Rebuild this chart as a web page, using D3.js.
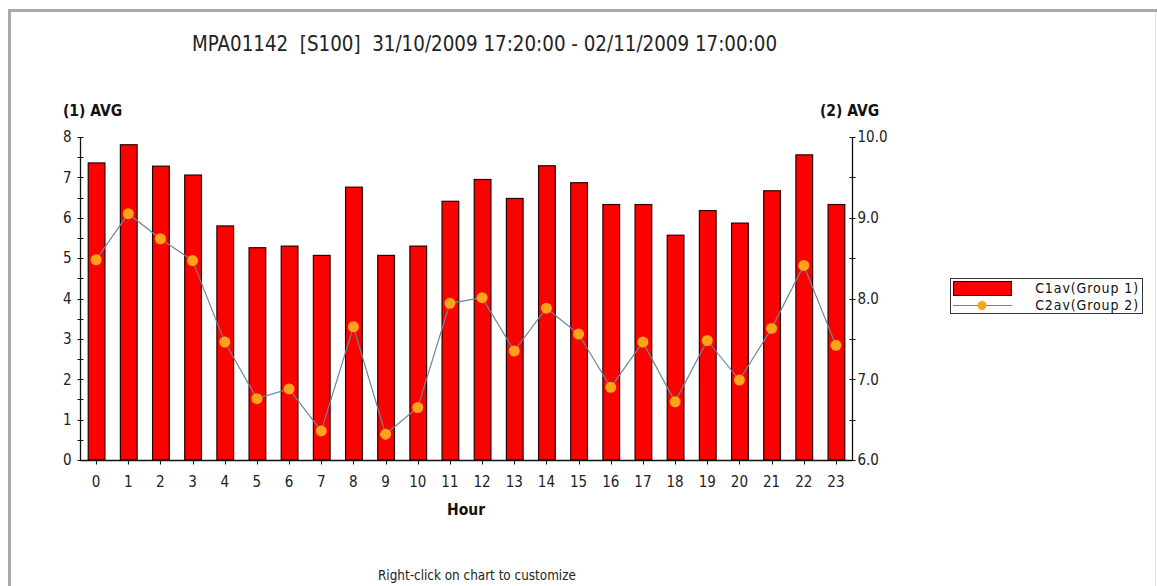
<!DOCTYPE html>
<html>
<head>
<meta charset="utf-8">
<script src="https://cdn.jsdelivr.net/npm/d3@7"></script>
<style>
  html, body { margin: 0; padding: 0; background: #fff; }
  svg { display: block; font-family: Tahoma, "DejaVu Sans Condensed", "DejaVu Sans", sans-serif; }
  .tick-label { font-size: 15px; fill: #222; }
  .axis-title { font-size: 15.5px; font-weight: bold; fill: #111; }
</style>
</head>
<body>
<div id="chart"></div>
<script>
  // hours and the two averaged series
  const hours = d3.range(0, 24);
  const c1av = [7.37, 7.82, 7.29, 7.07, 5.81, 5.27, 5.31, 5.08, 6.77, 5.08, 5.31, 6.42,
                6.96, 6.49, 7.30, 6.88, 6.34, 6.34, 5.58, 6.19, 5.88, 6.68, 7.57, 6.34];
  const c2av = [8.48, 9.05, 8.74, 8.47, 7.46, 6.76, 6.88, 6.36, 7.65, 6.32, 6.65, 7.94,
                8.01, 7.35, 7.88, 7.56, 6.90, 7.46, 6.72, 7.48, 6.99, 7.63, 8.41, 7.42];
  const leftTicks = [0, 1, 2, 3, 4, 5, 6, 7, 8];
  const rightTicks = [6, 7, 8, 9, 10];
  const seriesNames = ["C1av(Group 1)", "C2av(Group 2)"];

  const W = 1157, H = 586;
  const margin = { top: 137, right: 305, bottom: 126, left: 80 };
  const innerW = W - margin.left - margin.right;
  const innerH = H - margin.top - margin.bottom;

  // scale a text's font so that it spans the width seen in the reference
  const fitWidth = (sel, target) => {
    const base = parseFloat(sel.style("font-size"));
    const w = sel.node().getComputedTextLength();
    if (w > 0) sel.style("font-size", `${(base * target / w).toFixed(2)}px`);
  };

  const svg = d3.select("#chart").append("svg")
    .attr("width", W).attr("height", H);

  // frame of the host control
  svg.append("rect").attr("x", 9).attr("y", 9).attr("width", W - 9).attr("height", 3).attr("fill", "#a9a9a9");
  svg.append("rect").attr("x", 8).attr("y", 9).attr("width", 3).attr("height", H - 9).attr("fill", "#a9a9a9");
  svg.append("line").attr("x1", W - 1.5).attr("x2", W - 1.5).attr("y1", 12).attr("y2", H)
    .attr("stroke", "#e4e4e4");

  const title = svg.append("text")
    .attr("x", 192).attr("y", 51)
    .attr("xml:space", "preserve")
    .style("font-size", "16px").style("fill", "#222").style("white-space", "pre")
    .text("MPA01142  [S100]  31/10/2009 17:20:00 - 02/11/2009 17:00:00");
  fitWidth(title, 585);

  const plot = svg.append("g").attr("transform", `translate(${margin.left},${margin.top})`);

  const x = d3.scaleBand().domain(hours).range([0, innerW]).paddingInner(0.48).paddingOuter(0.24);
  const y1 = d3.scaleLinear().domain([0, 8]).range([innerH, 0]);
  const y2 = d3.scaleLinear().domain([6, 10]).range([innerH, 0]);
  const cx = (h) => x(h) + x.bandwidth() / 2;

  // bars
  plot.append("g").selectAll("rect")
    .data(hours)
    .join("rect")
    .attr("x", (h) => x(h) + 0.5)
    .attr("y", (h) => y1(c1av[h]) + 0.5)
    .attr("width", x.bandwidth())
    .attr("height", (h) => innerH - y1(c1av[h]) - 0.5)
    .attr("fill", "#ff0000")
    .attr("stroke", "#2a0000")
    .attr("stroke-width", 1.2);

  // line + markers on secondary axis
  const line = d3.line().x((h) => cx(h)).y((h) => y2(c2av[h]));
  plot.append("path")
    .datum(hours)
    .attr("d", line)
    .attr("fill", "none")
    .attr("stroke", "#6b8796")
    .attr("stroke-width", 1.2);

  plot.append("g").selectAll("circle")
    .data(hours)
    .join("circle")
    .attr("cx", cx)
    .attr("cy", (h) => y2(c2av[h]))
    .attr("r", 5.5)
    .attr("fill", "#ffa31a");

  // left axis
  const leftAxis = plot.append("g").attr("transform", "translate(0.5,0)");
  leftAxis.append("line").attr("y1", 0).attr("y2", innerH).attr("stroke", "#111").attr("stroke-width", 1.3);
  leftAxis.selectAll("line.tk")
    .data(d3.range(0, 8.01, 0.5))
    .join("line").attr("class", "tk")
    .attr("x1", -3).attr("x2", 3)
    .attr("y1", (v) => Math.round(y1(v)) + 0.5).attr("y2", (v) => Math.round(y1(v)) + 0.5)
    .attr("stroke", "#111");
  leftAxis.selectAll("text")
    .data(leftTicks)
    .join("text").attr("class", "tick-label")
    .attr("x", -9).attr("y", (v) => y1(v)).attr("dy", "0.35em")
    .attr("text-anchor", "end")
    .text((v) => v);

  // right axis
  const rightAxis = plot.append("g").attr("transform", `translate(${innerW + 0.5},0)`);
  rightAxis.append("line").attr("y1", 0).attr("y2", innerH).attr("stroke", "#111").attr("stroke-width", 1.3);
  rightAxis.selectAll("line.tk")
    .data(d3.range(6, 10.01, 0.5))
    .join("line").attr("class", "tk")
    .attr("x1", -3).attr("x2", 3)
    .attr("y1", (v) => Math.round(y2(v)) + 0.5).attr("y2", (v) => Math.round(y2(v)) + 0.5)
    .attr("stroke", "#111");
  rightAxis.selectAll("text")
    .data(rightTicks)
    .join("text").attr("class", "tick-label")
    .attr("x", 5).attr("y", (v) => y2(v)).attr("dy", "0.35em")
    .text(d3.format(".1f"));

  // bottom axis
  const bottomAxis = plot.append("g").attr("transform", `translate(0,${innerH + 0.5})`);
  bottomAxis.append("line").attr("x1", 0).attr("x2", innerW).attr("stroke", "#111").attr("stroke-width", 1.3);
  bottomAxis.selectAll("line.tk")
    .data(hours)
    .join("line").attr("class", "tk")
    .attr("x1", (h) => Math.round(cx(h)) + 0.5).attr("x2", (h) => Math.round(cx(h)) + 0.5)
    .attr("y1", 0).attr("y2", 4)
    .attr("stroke", "#111");
  bottomAxis.selectAll("text")
    .data(hours)
    .join("text").attr("class", "tick-label")
    .attr("x", cx).attr("y", 26)
    .attr("text-anchor", "middle")
    .text((h) => h);

  plot.append("text").attr("class", "axis-title")
    .attr("x", innerW / 2).attr("y", innerH + 55)
    .attr("text-anchor", "middle")
    .text("Hour");

  svg.append("text").attr("class", "axis-title").attr("x", 63).attr("y", 116).text("(1) AVG");
  svg.append("text").attr("class", "axis-title").attr("x", 820).attr("y", 116).text("(2) AVG");

  const note = svg.append("text")
    .attr("x", 378).attr("y", 580)
    .style("font-size", "12px").style("fill", "#222")
    .text("Right-click on chart to customize");
  fitWidth(note, 198);

  // legend
  const legend = svg.append("g").attr("transform", "translate(950,278)");
  legend.append("rect").attr("x", 0.5).attr("y", 0.5).attr("width", 192).attr("height", 35)
    .attr("fill", "#fff").attr("stroke", "#333");
  legend.append("rect").attr("x", 3.5).attr("y", 3.5).attr("width", 58).attr("height", 14)
    .attr("fill", "#ff0000").attr("stroke", "#2a0000");
  legend.append("line").attr("x1", 3).attr("x2", 62).attr("y1", 27.5).attr("y2", 27.5)
    .attr("stroke", "#6b8796");
  legend.append("circle").attr("cx", 32).attr("cy", 27.5).attr("r", 4.5).attr("fill", "#ffa31a");
  legend.selectAll("text.lg")
    .data(seriesNames)
    .join("text").attr("class", "lg")
    .attr("x", 189).attr("y", (_, i) => 10 + i * 17).attr("dy", "0.35em")
    .attr("text-anchor", "end")
    .style("font-size", "14px").style("letter-spacing", "0.9px").style("fill", "#111")
    .text((d) => d);
</script>
</body>
</html>
